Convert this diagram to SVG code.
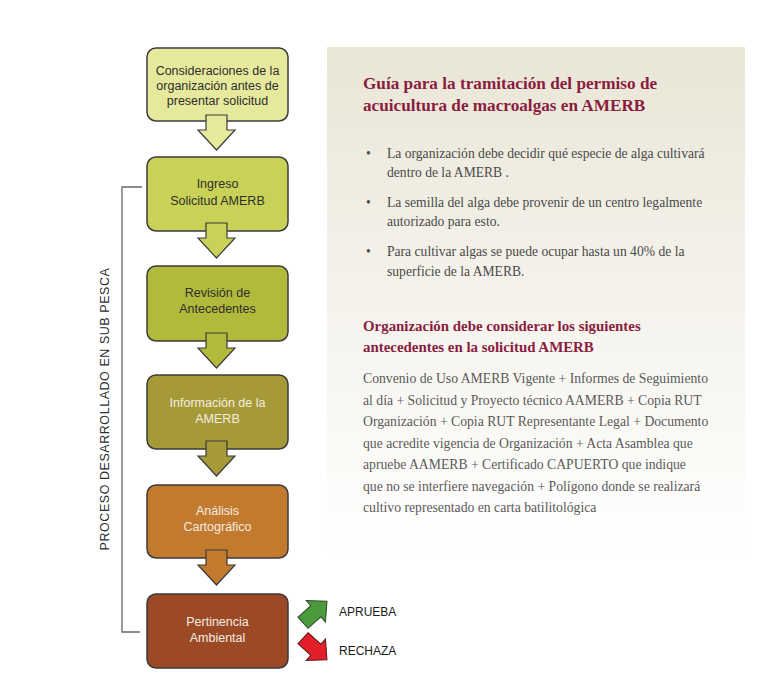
<svg xmlns="http://www.w3.org/2000/svg" width="768" height="691" viewBox="0 0 768 691">
<defs>
<linearGradient id="panelGrad" x1="0" y1="0" x2="0" y2="1">
<stop offset="0" stop-color="#e9e6d6"/>
<stop offset="0.55" stop-color="#f6f4ee"/>
<stop offset="1" stop-color="#ffffff"/>
</linearGradient>
<style>
.box{stroke:#3b3b3b;stroke-width:1.5}
.blk{stroke:#3b3b3b;stroke-width:1.2;stroke-linejoin:miter}
.bt{font-family:"Liberation Sans",Arial,sans-serif;font-size:12.5px;text-anchor:middle}
.dark{fill:#2e2e2e}
.light{fill:#f3ece0}
.ttl{font-family:"Liberation Serif","Times New Roman",serif;font-weight:bold;fill:#8a1d3f}
.bul{font-family:"Liberation Serif","Times New Roman",serif;font-size:13.6px;fill:#4a4a4a}
.par{font-family:"Liberation Serif","Times New Roman",serif;font-size:13.7px;fill:#5a5a5a}
.lab{font-family:"Liberation Sans",Arial,sans-serif;font-size:12px;fill:#1a1a1a}
</style>
</defs>
<rect width="768" height="691" fill="#ffffff"/>
<rect x="327" y="47" width="418" height="510" fill="url(#panelGrad)"/>

<g id="n1">
<rect class="box" x="147" y="48" width="141" height="73" rx="9" fill="#e6e99c"/>
<text class="bt dark" x="217.5" y="75">Consideraciones de la</text>
<text class="bt dark" x="217.5" y="90">organización antes de</text>
<text class="bt dark" x="217.5" y="105">presentar solicitud</text>
</g>
<g id="n2">
<rect class="box" x="147" y="157" width="141" height="74" rx="9" fill="#c9d257"/>
<text class="bt dark" x="217.5" y="188">Ingreso</text>
<text class="bt dark" x="217.5" y="205">Solicitud AMERB</text>
</g>
<g id="n3">
<rect class="box" x="147" y="266" width="141" height="75" rx="9" fill="#b1ba3a"/>
<text class="bt dark" x="217.5" y="297">Revisión de</text>
<text class="bt dark" x="217.5" y="313">Antecedentes</text>
</g>
<g id="n4">
<rect class="box" x="147" y="375" width="141" height="74" rx="9" fill="#a69a38"/>
<text class="bt light" x="217.5" y="407">Información de la</text>
<text class="bt light" x="217.5" y="423">AMERB</text>
</g>
<g id="n5">
<rect class="box" x="147" y="485" width="141" height="73" rx="9" fill="#c27a2e"/>
<text class="bt light" x="217.5" y="515">Análisis</text>
<text class="bt light" x="217.5" y="531">Cartográfico</text>
</g>
<g id="n6">
<rect class="box" x="147" y="594" width="141" height="74" rx="9" fill="#9c4a26"/>
<text class="bt light" x="217.5" y="626">Pertinencia</text>
<text class="bt light" x="217.5" y="642">Ambiental</text>
</g>

<g id="connectors">
<path class="blk" fill="#e6e99c" d="M206,115 H227 V130 H235 L216.5,150 L198,130 H206 Z"/>
<path class="blk" fill="#c9d257" d="M206,223 H227 V238 H235 L216.5,258 L198,238 H206 Z"/>
<path class="blk" fill="#b1ba3a" d="M206,333 H227 V348 H235 L216.5,368 L198,348 H206 Z"/>
<path class="blk" fill="#a69a38" d="M206,441 H227 V456 H235 L216.5,476 L198,456 H206 Z"/>
<path class="blk" fill="#c27a2e" d="M206,550 H227 V565 H235 L216.5,585 L198,565 H206 Z"/>
<path d="M142,187 H122 V632 H140" fill="none" stroke="#666666" stroke-width="1.3"/>
</g>

<text transform="translate(109,409) rotate(-90)" font-family="'Liberation Sans',Arial,sans-serif" font-size="12.5" fill="#2e2e2e" text-anchor="middle" letter-spacing="0.55">PROCESO DESARROLLADO EN SUB  PESCA</text>

<g id="aprueba">
<path transform="translate(315,612) rotate(-42) scale(1.15)" d="M-14,-6.5 H1 V-12.5 L14,0 L1,12.5 V6.5 H-14 Z" fill="#4c9a3c" stroke="#2f4f2a" stroke-width="0.9"/>
<text class="lab" x="339" y="616">APRUEBA</text>
</g>
<g id="rechaza">
<path transform="translate(315,649) rotate(42) scale(1.15)" d="M-14,-6.5 H1 V-12.5 L14,0 L1,12.5 V6.5 H-14 Z" fill="#e3202a" stroke="#5a1a1a" stroke-width="0.9"/>
<text class="lab" x="339" y="655">RECHAZA</text>
</g>

<g id="panel">
<text class="ttl" font-size="17.2" x="363" y="89">Guía para la tramitación del permiso de</text>
<text class="ttl" font-size="17.2" x="363" y="111">acuicultura de macroalgas en AMERB</text>
<text class="bul" x="366" y="158">•</text>
<text class="bul" x="387" y="158">La organización debe decidir qué especie de alga cultivará</text>
<text class="bul" x="387" y="177">dentro de la AMERB .</text>
<text class="bul" x="366" y="207">•</text>
<text class="bul" x="387" y="207">La semilla del alga debe provenir de un centro legalmente</text>
<text class="bul" x="387" y="226">autorizado para esto.</text>
<text class="bul" x="366" y="256">•</text>
<text class="bul" x="387" y="256">Para cultivar algas se puede ocupar hasta un 40% de la</text>
<text class="bul" x="387" y="276">superficie de la AMERB.</text>
<text class="ttl" font-size="14.9" x="363" y="331">Organización debe considerar los siguientes</text>
<text class="ttl" font-size="14.9" x="363" y="352">antecedentes en la solicitud AMERB</text>
<text class="par" x="363" y="383">Convenio de Uso AMERB Vigente + Informes de Seguimiento</text>
<text class="par" x="363" y="404.5">al día + Solicitud y Proyecto técnico AAMERB + Copia RUT</text>
<text class="par" x="363" y="426">Organización + Copia RUT Representante Legal + Documento</text>
<text class="par" x="363" y="447.5">que acredite vigencia de Organización + Acta Asamblea que</text>
<text class="par" x="363" y="469">apruebe AAMERB + Certificado CAPUERTO que indique</text>
<text class="par" x="363" y="490.5">que no se interfiere navegación + Polígono donde se realizará</text>
<text class="par" x="363" y="512">cultivo representado en carta batilitológica</text>
</g>
</svg>
